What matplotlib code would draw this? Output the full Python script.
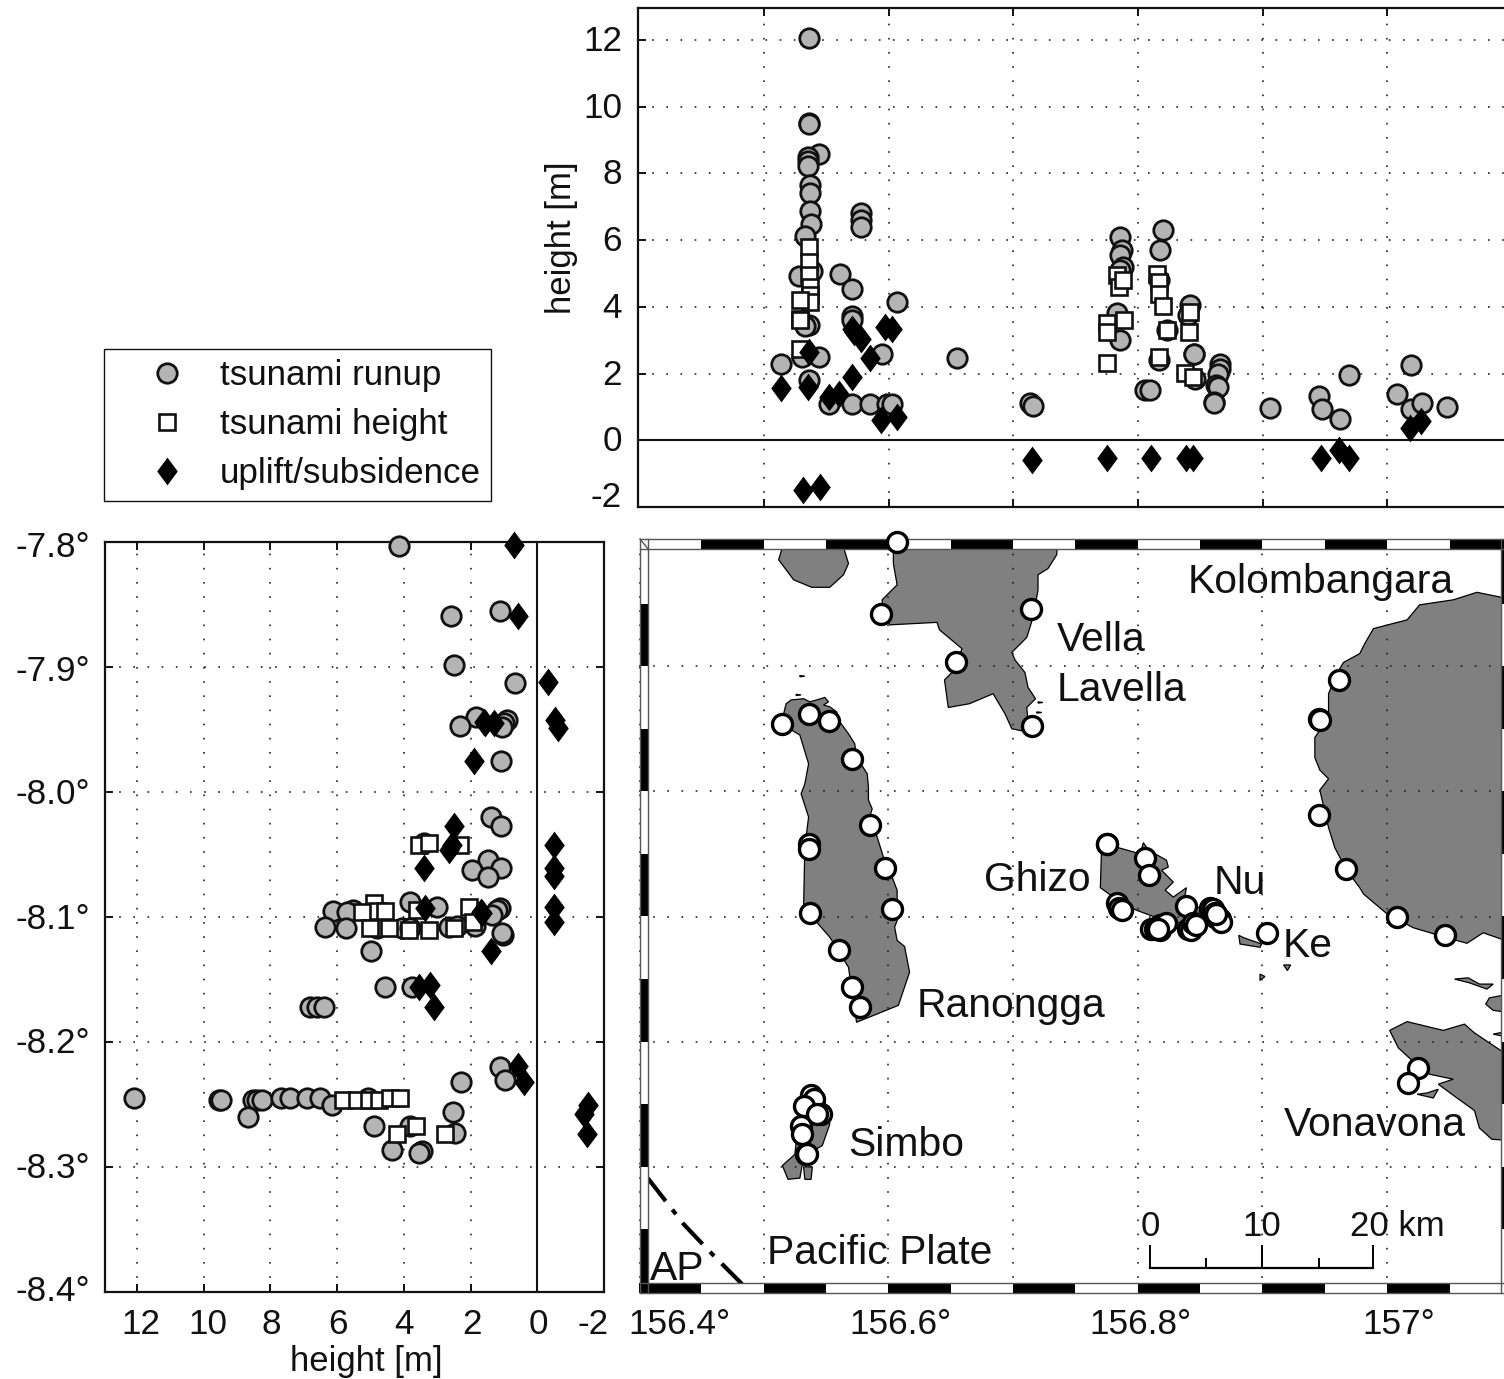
import matplotlib
matplotlib.use("Agg")
import matplotlib.pyplot as plt
from matplotlib.lines import Line2D
from matplotlib.patches import Polygon, Rectangle
from matplotlib.transforms import ScaledTranslation, blended_transform_factory

plt.rcParams['font.family'] = ['Liberation Sans', 'DejaVu Sans']

# top panel: longitude vs height
top_runup_lon = [156.536, 156.536, 156.5363, 156.544, 156.535, 156.535, 156.535, 156.537, 156.537, 156.537,
                 156.538, 156.533, 156.528, 156.5385, 156.5607, 156.571, 156.607, 156.571, 156.571, 156.536,
                 156.533, 156.578, 156.578, 156.578, 156.5946, 156.514, 156.5305, 156.544, 156.536, 156.655,
                 156.552, 156.5705, 156.585, 156.599, 156.603, 156.715, 156.7135, 156.716,
                 156.786, 156.787, 156.786, 156.788, 156.786, 156.783, 156.786, 156.8205, 156.818, 156.817,
                 156.817, 156.806, 156.810, 156.842, 156.840, 156.823, 156.845, 156.845, 156.846, 156.866,
                 156.8655, 156.8645, 156.863, 156.8645, 156.861, 156.861, 156.906, 156.945, 156.948, 156.969,
                 156.962, 157.019, 157.008, 157.019, 157.0276, 157.048]
top_runup_h = [12.07, 9.5, 9.48, 8.58, 8.5, 8.38, 8.22, 7.65, 7.4, 6.88,
               6.48, 6.12, 4.92, 5.08, 4.98, 4.53, 4.15, 3.73, 3.6, 3.45,
               3.42, 6.8, 6.6, 6.4, 2.58, 2.3, 2.5, 2.5, 1.8, 2.48,
               1.1, 1.08, 1.08, 1.08, 1.08, 1.05, 1.12, 1.02,
               6.1, 5.7, 5.55, 5.2, 5.1, 3.82, 3.0, 6.3, 5.7, 4.8,
               2.42, 1.5, 1.5, 4.05, 3.75, 3.32, 2.6, 2.58, 1.85, 2.3,
               2.15, 2.0, 1.65, 1.6, 1.15, 1.12, 0.98, 1.34, 0.93, 1.96,
               0.63, 2.25, 1.38, 0.95, 1.12, 1.0]
top_height_lon = [156.536, 156.5363, 156.536, 156.537, 156.537, 156.537, 156.529, 156.529, 156.529, 156.529,
                  156.7836, 156.785, 156.788, 156.7756, 156.7756, 156.789, 156.7756, 156.815, 156.817, 156.817,
                  156.8205, 156.823, 156.817, 156.842, 156.841, 156.838, 156.844]
top_height_h = [5.78, 5.35, 4.95, 4.6, 4.35, 4.15, 4.22, 3.65, 3.62, 2.75,
                4.95, 4.6, 4.8, 3.52, 3.25, 3.6, 2.32, 4.98, 4.75, 4.4,
                4.02, 3.32, 2.5, 3.85, 3.25, 2.02, 1.9]
top_uplift_lon = [156.514, 156.535, 156.536, 156.5705, 156.571, 156.5725, 156.578, 156.585, 156.5604, 156.5526,
                  156.597, 156.6026, 156.594, 156.6066, 156.531, 156.5446, 156.715,
                  156.775, 156.8103, 156.839, 156.8445, 156.947, 156.9616, 156.969, 157.018, 157.027]
top_uplift_h = [1.58, 1.6, 2.65, 1.9, 3.35, 3.25, 3.05, 2.48, 1.4, 1.3,
                3.4, 3.35, 0.6, 0.7, -1.5, -1.4, -0.6,
                -0.52, -0.52, -0.52, -0.52, -0.52, -0.3, -0.52, 0.38, 0.57]

# left panel: height vs latitude
left_runup_h = [4.16, 2.59, 1.11, 2.49, 0.68, 1.84, 2.31, 0.91, 1.01, 1.06, 1.09,
                1.38, 1.09, 3.41, 1.49, 1.96, 1.08, 1.49, 3.83, 6.13, 5.51, 5.71, 3.01, 1.11, 1.21,
                1.36, 6.36, 5.74, 4.81, 4.06, 3.81, 2.66, 2.41, 1.86, 1.03, 1.06, 4.99, 4.56, 3.76,
                6.81, 6.59, 6.38, 1.11, 0.98, 2.29, 12.08, 9.53, 9.49, 8.51, 8.41, 8.26, 7.69, 7.41,
                6.89, 6.51, 6.16, 8.66, 5.08, 4.91, 2.54, 2.46, 3.83, 4.36, 3.46, 3.56]
left_runup_lat = [-7.803, -7.859, -7.855, -7.898, -7.913, -7.940, -7.947, -7.942, -7.945, -7.948, -7.975,
                  -8.020, -8.027, -8.041, -8.054, -8.062, -8.061, -8.068, -8.088, -8.095, -8.094, -8.096, -8.092, -8.093, -8.094,
                  -8.098, -8.108, -8.109, -8.109, -8.109, -8.109, -8.108, -8.107, -8.107, -8.114, -8.113, -8.127, -8.156, -8.156,
                  -8.172, -8.172, -8.172, -8.220, -8.230, -8.232, -8.245, -8.246, -8.246, -8.246, -8.246, -8.246, -8.245, -8.245,
                  -8.245, -8.245, -8.250, -8.260, -8.245, -8.267, -8.256, -8.273, -8.267, -8.286, -8.287, -8.289]
left_height_h = [3.56, 3.24, 2.31, 4.91, 4.81, 4.56, 5.26, 5.01, 4.46, 3.86, 3.26, 3.61, 2.06, 1.93, 2.51,
                 5.81, 5.41, 5.06, 4.76, 4.41, 4.11, 3.63, 4.21, 2.78]
left_height_lat = [-8.042, -8.041, -8.042, -8.089, -8.095, -8.095, -8.096, -8.109, -8.109, -8.110, -8.110, -8.094, -8.092, -8.104, -8.109,
                   -8.246, -8.246, -8.246, -8.246, -8.245, -8.245, -8.267, -8.274, -8.274]
left_uplift_h = [0.69, 0.58, -0.31, -0.52, -0.61, 1.61, 1.31, 1.56, 1.89,
                 2.51, 2.56, 2.66, 3.39, -0.49, -0.49, -0.49, -0.49, -0.49, 3.36, 1.69, 1.66, 1.39,
                 3.56, 3.23, 3.09, 0.59, 0.39, -1.51, -1.41, -1.49]
left_uplift_lat = [-7.802, -7.859, -7.912, -7.942, -7.949, -7.944, -7.945, -7.945, -7.975,
                   -8.027, -8.042, -8.046, -8.061, -8.042, -8.061, -8.067, -8.092, -8.104, -8.093, -8.096, -8.097, -8.127,
                   -8.156, -8.154, -8.172, -8.219, -8.232, -8.250, -8.258, -8.274]

# map: survey sites
site_lon = [156.515, 156.536, 156.552, 156.571, 156.585, 156.597, 156.603, 156.536, 156.536, 156.537, 156.560, 156.571, 156.577,
            156.607, 156.594, 156.714, 156.654, 156.715,
            156.961, 156.945, 156.946, 156.945, 156.967, 157.008, 157.046,
            156.775, 156.775, 156.806, 156.809, 156.783, 156.785, 156.787, 156.811, 156.814, 156.818, 156.818, 156.823, 156.816,
            156.839, 156.840, 156.843, 156.844, 156.847, 156.858, 156.860, 156.862, 156.862, 156.864, 156.866, 156.867, 156.863, 156.904,
            157.025, 157.017,
            156.538, 156.540, 156.532, 156.546, 156.543, 156.530, 156.531, 156.534, 156.535]
site_lat = [-7.946, -7.938, -7.944, -7.974, -8.027, -8.061, -8.094, -8.042, -8.046, -8.097, -8.127, -8.156, -8.172,
            -7.801, -7.858, -7.854, -7.897, -7.948,
            -7.911, -7.942, -7.943, -8.019, -8.062, -8.100, -8.115,
            -8.042, -8.042, -8.053, -8.067, -8.089, -8.093, -8.095, -8.110, -8.110, -8.107, -8.111, -8.105, -8.110,
            -8.092, -8.110, -8.111, -8.105, -8.107, -8.093, -8.094, -8.097, -8.100, -8.101, -8.102, -8.104, -8.098, -8.113,
            -8.221, -8.233,
            -8.243, -8.246, -8.251, -8.258, -8.258, -8.267, -8.274, -8.290, -8.290]

# island outlines (lon, lat)
ranongga = [(156.518, -7.930), (156.522, -7.927), (156.532, -7.926), (156.537, -7.9285), (156.5425, -7.927),
            (156.549, -7.925), (156.552, -7.9285), (156.548, -7.931), (156.553, -7.9325), (156.5585, -7.9365),
            (156.561, -7.9445), (156.568, -7.954), (156.573, -7.962), (156.5745, -7.9725), (156.583, -7.986),
            (156.584, -7.9965), (156.584, -8.007), (156.587, -8.014), (156.585, -8.0205), (156.591, -8.0365),
            (156.596, -8.0525), (156.603, -8.0685), (156.607, -8.079), (156.607, -8.091), (156.611, -8.0925),
            (156.605, -8.1085), (156.607, -8.119), (156.613, -8.124), (156.617, -8.1445), (156.608, -8.171),
            (156.5745, -8.1845), (156.573, -8.175), (156.568, -8.1405), (156.553, -8.1165), (156.532, -8.0925),
            (156.533, -8.0445), (156.536, -8.0205), (156.530, -8.002), (156.533, -7.994), (156.536, -7.978),
            (156.529, -7.955), (156.518, -7.9485), (156.513, -7.942), (156.516, -7.938)]
vella = [(156.604, -7.795), (156.736, -7.795), (156.735, -7.811), (156.728, -7.822), (156.720, -7.827),
         (156.720, -7.839), (156.716, -7.861), (156.711, -7.877), (156.699, -7.889), (156.7015, -7.895),
         (156.7095, -7.905), (156.712, -7.917), (156.718, -7.926), (156.711, -7.933), (156.712, -7.945),
         (156.7135, -7.953), (156.699, -7.950), (156.6935, -7.938), (156.684, -7.922), (156.665, -7.930),
         (156.648, -7.933), (156.645, -7.911), (156.653, -7.903), (156.659, -7.886), (156.641, -7.871),
         (156.639, -7.865), (156.601, -7.867), (156.595, -7.858), (156.595, -7.847), (156.607, -7.835),
         (156.604, -7.818)]
gizo_nw = [(156.518, -7.795), (156.561, -7.795), (156.568, -7.818), (156.564, -7.827), (156.553, -7.837),
           (156.5385, -7.837), (156.524, -7.831), (156.512, -7.815)]
kolombangara = [(157.1, -7.8467), (157.072, -7.841), (157.053, -7.847), (157.026, -7.851), (157.016, -7.863),
                (156.989, -7.870), (156.982, -7.882), (156.978, -7.890), (156.965, -7.897), (156.9595, -7.906),
                (156.953, -7.922), (156.953, -7.941), (156.942, -7.957), (156.942, -7.973), (156.946, -7.983),
                (156.953, -7.990), (156.946, -7.999), (156.953, -8.029), (156.958, -8.045), (156.9675, -8.063),
                (156.978, -8.077), (156.981, -8.082), (157.000, -8.098), (157.021, -8.109), (157.048, -8.117),
                (157.064, -8.1214), (157.077, -8.113), (157.1, -8.121)]
ghizo = [(156.771, -8.0432), (156.783, -8.0446), (156.802, -8.050), (156.8045, -8.041), (156.8085, -8.047),
         (156.823, -8.055), (156.8245, -8.0605), (156.819, -8.063), (156.8285, -8.0725), (156.822, -8.079),
         (156.8285, -8.0845), (156.839, -8.077), (156.8366, -8.090), (156.850, -8.093), (156.849, -8.098),
         (156.834, -8.105), (156.818, -8.102), (156.799, -8.095), (156.788, -8.090), (156.770, -8.077)]
vonavona = [(157.002, -8.191), (157.016, -8.184), (157.045, -8.191), (157.062, -8.186), (157.070, -8.193),
            (157.094, -8.209), (157.1, -8.209), (157.1, -8.279), (157.084, -8.278), (157.074, -8.269),
            (157.070, -8.255), (157.056, -8.245), (157.041, -8.234), (157.053, -8.230), (157.034, -8.226),
            (157.020, -8.215), (157.009, -8.205)]
vonavona_spit = [(157.024, -8.242), (157.037, -8.245), (157.041, -8.238), (157.032, -8.241)]
simbo_main = [(156.533, -8.239), (156.549, -8.247), (156.553, -8.266), (156.547, -8.283), (156.533, -8.291),
              (156.531, -8.298), (156.529, -8.309), (156.5195, -8.310), (156.515, -8.299), (156.525, -8.290),
              (156.5275, -8.267), (156.5275, -8.247)]
simbo_south = [(156.532, -8.300), (156.539, -8.300), (156.538, -8.310), (156.533, -8.310)]
strip_a = [(157.054, -8.150), (157.065, -8.149), (157.074, -8.154), (157.085, -8.154), (157.080, -8.158), (157.066, -8.153)]
blob_a = [(157.1, -8.1616), (157.082, -8.165), (157.079, -8.170), (157.085, -8.175), (157.1, -8.177)]
sliver_a = [(157.085, -8.194), (157.1, -8.191), (157.1, -8.197)]
nusa_ke = [(156.881, -8.115), (156.885, -8.117), (156.8994, -8.122), (156.898, -8.1246), (156.882, -8.122)]
islet_a = [(156.917, -8.1387), (156.9226, -8.1387), (156.920, -8.1432)]
islet_b = [(156.898, -8.146), (156.902, -8.148), (156.898, -8.151)]
islet_c = [(156.720, -7.9285), (156.724, -7.929), (156.720, -7.9295)]
islet_d = [(156.719, -7.9365), (156.723, -7.937), (156.719, -7.9375)]
islet_e = [(156.529, -7.9075), (156.533, -7.908), (156.529, -7.9085)]
islet_f = [(156.526, -7.9225), (156.530, -7.923), (156.526, -7.9235)]
islands = [ranongga, vella, gizo_nw, kolombangara, ghizo, vonavona, vonavona_spit, simbo_main, simbo_south,
           strip_a, blob_a, sliver_a, nusa_ke, islet_a, islet_b, islet_c, islet_d, islet_e, islet_f]

plate_lon = [156.407, 156.436, 156.456, 156.4826]
plate_lat = [-8.309, -8.346, -8.367, -8.3936]

lon_ticks = [156.5, 156.6, 156.7, 156.8, 156.9, 157.0]
lon_ticks_map = [156.4, 156.5, 156.6, 156.7, 156.8, 156.9, 157.0]
lon_labels = ['156.4°', '', '156.6°', '', '156.8°', '', '157°']
lon_label_shift = [40, 0, 12, 0, 3, 0, 12]
lat_ticks = [-7.8, -7.9, -8.0, -8.1, -8.2, -8.3, -8.4]
lat_labels = ['-7.8°', '-7.9°', '-8.0°', '-8.1°', '-8.2°', '-8.3°', '-8.4°']
lat_label_shift = [-2, -1, 1, 1, 2, 2, 4]
h_ticks = [12, 10, 8, 6, 4, 2, 0, -2]
h_labels = ['12', '10', '8', '6', '4', '2', '0', '-2']
h_xlabel_shift = [4, 4, 1, 1, 0, 1, 1, -11]

W, H = 1504, 1379
INK = '#111111'
GREY = '#b4b4b4'
LAND = '#808080'
GRID = dict(color='#222222', linewidth=1.2, linestyle=(0, (1, 7.5)))

fig = plt.figure(figsize=(W / 100, H / 100), dpi=100)


def axes_px(left, top, right, bottom):
    return fig.add_axes([left / W, 1 - bottom / H, (right - left) / W, (bottom - top) / H])


def shift_label(label, dx=0, dy=0):
    label.set_transform(label.get_transform() + ScaledTranslation(dx / 100, dy / 100, fig.dpi_scale_trans))


diamond = [(0, 1), (0.74, 0), (0, -1), (-0.74, 0), (0, 1)]
runup_style = dict(ls='none', marker='o', ms=14, mfc=GREY, mec=INK, mew=2.0, clip_on=False, zorder=3)
height_style = dict(ls='none', marker='s', ms=11, mfc='white', mec=INK, mew=1.9, clip_on=False, zorder=4)
uplift_style = dict(ls='none', marker=diamond, ms=20, mfc='black', mec='black', mew=0, clip_on=False, zorder=5)


def style_panel(ax):
    ax.grid(True, **GRID)
    ax.tick_params(direction='in', length=6, width=1.4, labelsize=25.3, colors=INK, pad=11.5)
    for s in ax.spines.values():
        s.set_linewidth(1.6)
        s.set_color(INK)


# top panel
ax_top = axes_px(638, 8, 1504, 507)
ax_top.plot(top_runup_lon, top_runup_h, **runup_style)
ax_top.plot(top_height_lon, top_height_h, **height_style)
ax_top.plot(top_uplift_lon, top_uplift_h, **uplift_style)
ax_top.axhline(0, color=INK, lw=1.5, zorder=2)
ax_top.set_xlim(156.399, 157.0937)
ax_top.set_ylim(-2.0, 12.96)
ax_top.set_xticks(lon_ticks, [])
ax_top.set_yticks(h_ticks, h_labels)
style_panel(ax_top)
ax_top.tick_params(top=True)
ax_top.spines['right'].set_visible(False)
for label in ax_top.get_yticklabels()[:-1]:
    shift_label(label, dy=2)
shift_label(ax_top.get_yticklabels()[-1], dy=13)
ax_top.set_ylabel('height [m]', fontsize=25, color=INK)
ax_top.yaxis.set_label_coords(-0.069, 0.539)

# left panel
ax_left = axes_px(105, 542, 604, 1292)
ax_left.plot(left_runup_h, left_runup_lat, **runup_style)
ax_left.plot(left_height_h, left_height_lat, **height_style)
ax_left.plot(left_uplift_h, left_uplift_lat, **uplift_style)
ax_left.axvline(0, color=INK, lw=1.5, zorder=2)
ax_left.set_xlim(12.96, -2.0)
ax_left.set_ylim(-8.4, -7.8)
ax_left.set_xticks(h_ticks, h_labels)
ax_left.set_yticks(lat_ticks, lat_labels)
style_panel(ax_left)
ax_left.tick_params(top=True, right=True)
for label, dx in zip(ax_left.get_xticklabels(), h_xlabel_shift):
    shift_label(label, dx=dx)
for label, dy in zip(ax_left.get_yticklabels(), lat_label_shift):
    shift_label(label, dx=1, dy=dy)
ax_left.set_xlabel('height [m]', fontsize=25, color=INK)
ax_left.xaxis.set_label_coords(0.523, -0.0707)

# map
ax_map = axes_px(639, 541, 1504, 1292)
for outline in islands:
    ax_map.add_patch(Polygon(outline, closed=True, fc=LAND, ec='black', lw=0.9, zorder=1))
ax_map.plot(plate_lon, plate_lat, color='black', lw=3, ls=(0, (7, 2.6, 1.4, 2.6)), zorder=2)
ax_map.plot(site_lon, site_lat, ls='none', marker='o', ms=14.4, mfc='white', mec='black', mew=2.4,
            clip_on=False, zorder=6)
ax_map.set_xlim(156.4, 157.0937)
ax_map.set_ylim(-8.4, -7.8)
ax_map.set_xticks(lon_ticks_map, lon_labels)
ax_map.set_yticks(lat_ticks[1:-1], [])
ax_map.grid(True, **GRID)
ax_map.tick_params(length=0, labelsize=25.3, colors=INK, pad=11.5)
for s in ax_map.spines.values():
    s.set_visible(False)
for label, dx in zip(ax_map.get_xticklabels(), lon_label_shift):
    shift_label(label, dx=dx)

# map border: checker bars drawn along the graticule
bx = blended_transform_factory(ax_map.transData, ax_map.transAxes)
by = blended_transform_factory(ax_map.transAxes, ax_map.transData)
band_top = (0.9893, 1.0027)
band_bottom = (-0.0013, 0.012)
band_left = (0.0012, 0.0105)
band_right = (0.9965, 1.0)
for i in range(14):
    x0 = 156.4 + i * 0.05
    top_black = i % 2 == 1
    ax_map.add_patch(Rectangle((x0, band_top[0]), 0.05, band_top[1] - band_top[0], transform=bx, clip_on=False,
                               fc='black' if top_black else 'white', ec='none', zorder=5))
    ax_map.add_patch(Rectangle((x0, band_bottom[0]), 0.05, band_bottom[1] - band_bottom[0], transform=bx, clip_on=False,
                               fc='white' if top_black else 'black', ec='none', zorder=5))
for i in range(12):
    y0 = -7.8 - (i + 1) * 0.05
    left_black = i % 2 == 1
    ax_map.add_patch(Rectangle((band_left[0], y0), band_left[1] - band_left[0], 0.05, transform=by, clip_on=False,
                               fc='black' if left_black else 'white', ec='none', zorder=5))
    ax_map.add_patch(Rectangle((band_right[0], y0), band_right[1] - band_right[0], 0.05, transform=by, clip_on=False,
                               fc='white' if left_black else 'black', ec='none', zorder=5))
for y in (band_top[0], band_top[1], band_bottom[0], band_bottom[1]):
    ax_map.plot([0.0012, 1], [y, y], transform=ax_map.transAxes, color='#555555', lw=1, clip_on=False, zorder=5.5)
for x in (band_left[0], band_left[1], band_right[0]):
    ax_map.plot([x, x], [-0.0013, 1.0027], transform=ax_map.transAxes, color='#555555', lw=1, clip_on=False, zorder=5.5)
ax_map.plot([band_left[0], band_left[1]], [band_top[1], band_top[0]], transform=ax_map.transAxes,
            color='#555555', lw=1, clip_on=False, zorder=5.5)

# scale bar
bar_base = -8.3808
bar_lons = [156.81, 156.855, 156.8996, 156.945, 156.989]
bar_tops = [-8.3624, -8.3728, -8.3624, -8.3728, -8.3624]
ax_map.plot([bar_lons[0], bar_lons[-1]], [bar_base, bar_base], color='black', lw=1.6, zorder=2)
ax_map.vlines(bar_lons, bar_base, bar_tops, color='black', lw=1.4, zorder=2)


def map_text(x, y, s, size=29.4, ha='left'):
    fig.text(x / W, 1 - y / H, s, fontsize=size, ha=ha, va='baseline', color=INK, zorder=7)


map_text(1188, 593, 'Kolombangara')
map_text(1057, 651, 'Vella')
map_text(1057, 701, 'Lavella')
map_text(984, 891, 'Ghizo')
map_text(1214, 894, 'Nu')
map_text(1283, 957, 'Ke')
map_text(917, 1017, 'Ranongga')
map_text(848, 1156, 'Simbo')
map_text(1284, 1136, 'Vonavona')
map_text(767, 1264, 'Pacific Plate')
map_text(650, 1280, 'AP')
map_text(1150, 1236, '0', size=25, ha='center')
map_text(1262, 1236, '10', size=25, ha='center')
map_text(1350, 1236, '20 km', size=25)

# legend
handles = [Line2D([], [], **{k: v for k, v in runup_style.items() if k not in ('clip_on', 'zorder')}),
           Line2D([], [], **{k: v for k, v in height_style.items() if k not in ('clip_on', 'zorder')}),
           Line2D([], [], **{k: v for k, v in uplift_style.items() if k not in ('clip_on', 'zorder')})]
fig.legend(handles, ['tsunami runup', 'tsunami height', 'uplift/subsidence'], loc='lower left',
           bbox_to_anchor=(104 / W, 1 - 501 / H), bbox_transform=fig.transFigure, fontsize=25.2, frameon=True,
           fancybox=False, framealpha=1, edgecolor=INK, borderpad=0.3, borderaxespad=0, handlelength=3.0,
           handletextpad=0.0, labelspacing=0.46, numpoints=1, labelcolor=INK).get_frame().set_linewidth(1.0)

fig.savefig('out.png', dpi=100)
